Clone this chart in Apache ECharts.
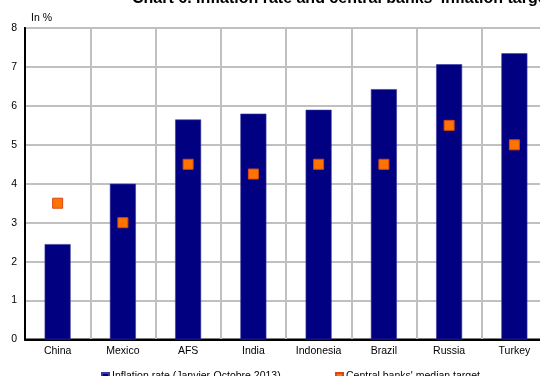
<!DOCTYPE html>
<html>
<head>
<meta charset="utf-8">
<script src="https://cdn.jsdelivr.net/npm/echarts@6/dist/echarts.min.js"></script>
<style>
  html, body { margin: 0; padding: 0; background: #fff; }
  #chart { width: 540px; height: 376px; }
</style>
</head>
<body>
<div id="chart"></div>
<script>
const countries = ['China', 'Mexico', 'AFS', 'India', 'Indonesia', 'Brazil', 'Russia', 'Turkey'];
const inflation = [2.45, 4.0, 5.65, 5.8, 5.9, 6.43, 7.07, 7.35];
const medianTarget = [3.5, 3.0, 4.5, 4.25, 4.5, 4.5, 5.5, 5.0];

const chart = echarts.init(document.getElementById('chart'));
const font = 'Liberation Sans, Arial, sans-serif';

chart.setOption({
  animation: false,
  textStyle: { fontFamily: font },
  title: {
    text: "Chart 6. Inflation rate and central banks' inflation targets",
    left: 127,
    top: -14,
    textStyle: { fontSize: 16, fontWeight: 'bold', color: '#000', fontFamily: font }
  },
  legend: [
    {
      data: [{ name: 'Inflation rate (Janvier-Octobre 2013)', icon: 'rect' }],
      left: 96, top: 366,
      itemWidth: 7, itemHeight: 7, itemGap: 4,
      textStyle: { fontSize: 10.5, color: '#000', padding: [0, 0, 0, -2] }
    },
    {
      data: [{ name: "Central banks' median target", icon: 'rect' }],
      left: 330, top: 366,
      itemWidth: 7, itemHeight: 7,
      textStyle: { fontSize: 10.5, color: '#000', padding: [0, 0, 0, -2] }
    }
  ],
  grid: {
    left: 25, top: 28, bottom: 36.5, width: 522,
    outerBoundsMode: 'none',
    containLabel: false,
    show: true, borderColor: '#000', borderWidth: 2
  },
  xAxis: {
    type: 'category',
    data: countries,
    axisTick: { show: false },
    axisLine: { lineStyle: { color: '#000', width: 2 } },
    axisLabel: { color: '#000', fontSize: 10.5, margin: 6 },
    splitLine: { show: true, lineStyle: { color: '#c0c0c0', width: 2 } }
  },
  yAxis: {
    type: 'value',
    min: 0, max: 8, interval: 1,
    name: 'In %',
    nameLocation: 'end',
    nameGap: 4,
    nameTextStyle: { color: '#000', fontSize: 10.5, align: 'left', padding: [0, 0, 0, 6] },
    axisLine: { show: true, lineStyle: { color: '#000', width: 2 } },
    axisTick: { show: false },
    axisLabel: { color: '#000', fontSize: 10.5, margin: 8 },
    splitLine: { show: true, lineStyle: { color: '#c0c0c0', width: 2 } }
  },
  series: [
    {
      name: 'Inflation rate (Janvier-Octobre 2013)',
      type: 'bar',
      data: inflation,
      barWidth: 26,
      itemStyle: { color: '#000080', borderColor: '#3a3aa0', borderWidth: 0.6 }
    },
    {
      name: "Central banks' median target",
      type: 'scatter',
      data: medianTarget,
      symbol: 'rect',
      symbolSize: 10,
      itemStyle: { color: '#ff7300', borderColor: '#d9481a', borderWidth: 1, opacity: 1 },
      z: 5
    }
  ]
});
</script>
</body>
</html>
